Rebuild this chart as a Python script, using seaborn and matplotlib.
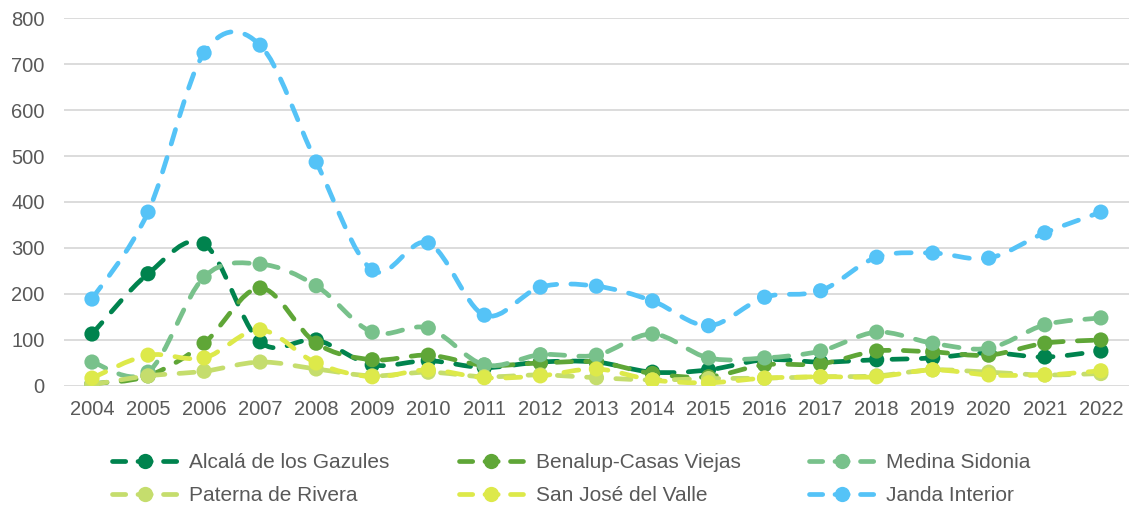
import numpy as np
import pandas as pd
import seaborn as sns
import matplotlib
matplotlib.use("Agg")
import matplotlib.pyplot as plt
from matplotlib.path import Path
from matplotlib.patches import PathPatch
from matplotlib.lines import Line2D

# Years on the x axis
years = [str(y) for y in range(2004, 2023)]

# Series values (one per year, 2004-2022)
alcala = [113, 244, 309, 96, 100, 46, 55, 40, 52, 52, 30, 35, 57, 52, 57, 61, 72, 63, 76]
benalup = [5, 22, 93, 213, 93, 57, 67, 45, 50, 52, 27, 20, 46, 48, 76, 74, 67, 93, 100]
medina = [52, 30, 237, 265, 218, 117, 126, 46, 68, 67, 113, 61, 61, 76, 117, 93, 82, 133, 148]
paterna = [3, 22, 32, 52, 37, 22, 30, 20, 24, 18, 13, 16, 17, 20, 22, 35, 30, 24, 27]
san_jose = [17, 67, 61, 122, 50, 20, 35, 18, 22, 37, 13, 7, 17, 20, 20, 35, 24, 24, 33]
janda = [189, 378, 724, 741, 487, 252, 311, 154, 215, 217, 185, 131, 193, 207, 280, 289, 278, 333, 378]

series_names = ["Alcalá de los Gazules", "Benalup-Casas Viejas", "Medina Sidonia",
                "Paterna de Rivera", "San José del Valle", "Janda Interior"]
series_values = [alcala, benalup, medina, paterna, san_jose, janda]
colors = ["#00834e", "#5fa637", "#78c18b", "#c5dd6d", "#dde94a", "#55c3f7"]

sns.set_theme(style="white")
plt.rcParams["font.family"] = ["Liberation Sans", "DejaVu Sans"]

fig = plt.figure(figsize=(11.3, 5.09), dpi=100)
ax = fig.add_axes([0.0566, 0.2417, 0.9424, 0.7229])


def smooth_path(xs, ys):
    """Cubic Bezier path through the points (Catmull-Rom style tangents)."""
    pts = np.column_stack([xs, ys]).astype(float)
    n = len(pts)
    verts = [pts[0]]
    codes = [Path.MOVETO]
    for i in range(n - 1):
        p0 = pts[i - 1] if i > 0 else pts[i]
        p1 = pts[i]
        p2 = pts[i + 1]
        p3 = pts[i + 2] if i + 2 < n else pts[i + 1]
        c1 = p1 + (p2 - p0) / 6.0
        c2 = p2 - (p3 - p1) / 6.0
        verts += [c1, c2, p2]
        codes += [Path.CURVE4] * 3
    return Path(verts, codes)


lw = 3.4
dash = (0, (3.2, 3.0))
msize = 120
handles = []
for k, (name, vals, col) in enumerate(zip(series_names, series_values, colors)):
    df = pd.DataFrame({"pos": np.arange(len(years)), "value": vals})
    patch = PathPatch(smooth_path(df["pos"], df["value"]), fill=False,
                      edgecolor=col, linewidth=lw, linestyle=dash,
                      capstyle="round", zorder=2 + 2 * k)
    ax.add_patch(patch)
    sns.scatterplot(data=df, x="pos", y="value", color=col, s=msize,
                    edgecolor="none", linewidth=0, ax=ax, zorder=3 + 2 * k,
                    legend=False)
    handles.append(Line2D([], [], color=col, linewidth=lw, linestyle=(0, (2.8, 2.6)),
                          dash_capstyle="round", marker="o", markersize=11,
                          markeredgewidth=0, label=name))

ax.set_xlim(-0.5, len(years) - 0.5)
ax.set_ylim(0, 800)
ax.set_yticks(range(0, 801, 100))
ax.set_xticks(range(len(years)))
ax.set_xticklabels(years)
ax.set_xlabel("")
ax.set_ylabel("")
ax.grid(axis="y", color="#d9d9d9", linewidth=1.3)
ax.set_axisbelow(True)
for s in ax.spines.values():
    s.set_visible(False)
ax.tick_params(axis="both", length=0, labelsize=14.5, labelcolor="#595959")
ax.tick_params(axis="y", pad=14)
ax.tick_params(axis="x", pad=10)

# Legend fills row by row: three entries per row
order = [0, 3, 1, 4, 2, 5]
leg = fig.legend(handles=[handles[i] for i in order], ncol=3, loc="upper left",
                 bbox_to_anchor=(0.092, 0.126), frameon=False,
                 fontsize=15, handlelength=3.1, handletextpad=0.6,
                 columnspacing=3.3, labelspacing=0.68, borderaxespad=0)
for t in leg.get_texts():
    t.set_color("#595959")

fig.savefig("out.png", dpi=100)
